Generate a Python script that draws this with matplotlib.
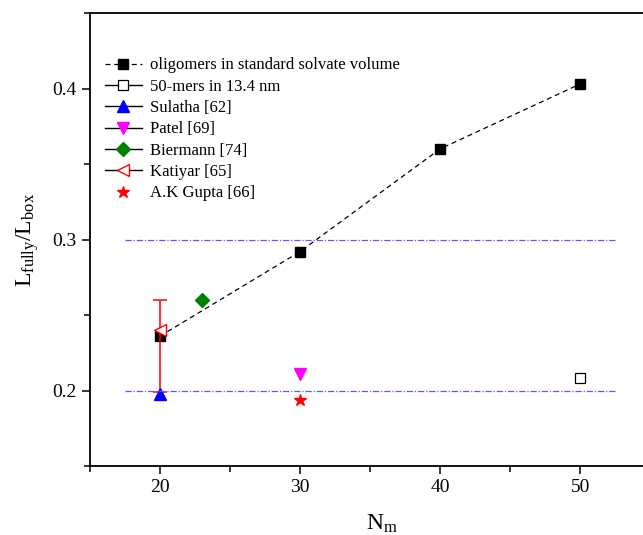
import matplotlib.pyplot as plt
from matplotlib.ticker import MultipleLocator

plt.rcParams['font.family'] = ['Liberation Serif', 'DejaVu Serif']
plt.rcParams['mathtext.fontset'] = 'custom'
plt.rcParams['mathtext.rm'] = 'Liberation Serif'
plt.rcParams['mathtext.it'] = 'Liberation Serif:italic'

# oligomers in standard solvate volume
n_olig = [20, 30, 40, 50]
l_olig = [0.236, 0.292, 0.360, 0.403]

# 50-mers in 13.4 nm
n_50 = [50]
l_50 = [0.208]

# literature values
n_sulatha, l_sulatha = [20], [0.198]
n_patel, l_patel = [30], [0.211]
n_bier, l_bier = [23], [0.260]
n_kat, l_kat = [20], [0.240]
kat_err_low, kat_err_high = [0.041], [0.020]
n_gupta, l_gupta = [30], [0.194]

ref_levels = [0.2, 0.3]
ref_span = [17.5, 52.5]

fig = plt.figure(figsize=(6.43, 5.35), dpi=100)
ax = fig.add_axes([90/643, 69/535, 584/643, 453/535])

ax.plot(n_olig, l_olig, color='black', linestyle=(0, (4, 3)), linewidth=0.9,
        marker='s', markersize=6.5, label='oligomers in standard solvate volume')
ax.plot(n_50, l_50, color='black', linestyle='-', linewidth=1, marker='s',
        markersize=6.5, markerfacecolor='white', markeredgecolor='black',
        markeredgewidth=0.9, label='50-mers in 13.4 nm')
ax.errorbar(n_kat, l_kat, yerr=[kat_err_low, kat_err_high], fmt='none',
            ecolor='red', elinewidth=1.1, capsize=5, capthick=1.1)
ax.plot(n_sulatha, l_sulatha, color='black', linewidth=1, marker='^',
        markersize=8.5, markerfacecolor='blue', markeredgecolor='blue',
        label='Sulatha [62]')
ax.plot(n_patel, l_patel, color='black', linewidth=1, marker='v',
        markersize=8.5, markerfacecolor='magenta', markeredgecolor='magenta',
        label='Patel [69]')
ax.plot(n_bier, l_bier, color='black', linewidth=1, marker='D',
        markersize=7, markerfacecolor='green', markeredgecolor='green',
        label='Biermann [74]')
ax.plot(n_kat, l_kat, color='black', linewidth=1, marker='<',
        markersize=9, markerfacecolor='white', markeredgecolor='red',
        label='Katiyar [65]')
ax.plot(n_gupta, l_gupta, linestyle='none', marker='*', markersize=9,
        color='red', label='A.K Gupta [66]')

for lv in ref_levels:
    ax.plot(ref_span, [lv, lv], color='#5a5aff', linestyle='-.',
            linewidth=0.9, dashes=(5, 1.5, 1, 1.5))

ax.set_xlim(15, 56.7)
ax.set_ylim(0.15, 0.45)
ax.xaxis.set_minor_locator(MultipleLocator(5))
ax.yaxis.set_minor_locator(MultipleLocator(0.05))
ax.set_xticks([20, 30, 40, 50])
ax.set_yticks([0.2, 0.3, 0.4])
ax.tick_params(which='both', direction='out', width=1.1, labelsize=14)
ax.tick_params(which='major', length=6)
ax.tick_params(which='minor', length=4)
for s in ax.spines.values():
    s.set_linewidth(1.3)

ax.set_xlabel(r'N$_{\mathrm{m}}$', fontsize=17, labelpad=12)
ax.set_ylabel(r'L$_{\mathrm{fully}}$/L$_{\mathrm{box}}$', fontsize=17, labelpad=8)

ax.legend(loc='upper left', bbox_to_anchor=(0.0, 0.935), frameon=False,
          fontsize=12, handlelength=2.2, handletextpad=0.5,
          labelspacing=0.32, numpoints=1)

fig.savefig('out.png', dpi=100)
